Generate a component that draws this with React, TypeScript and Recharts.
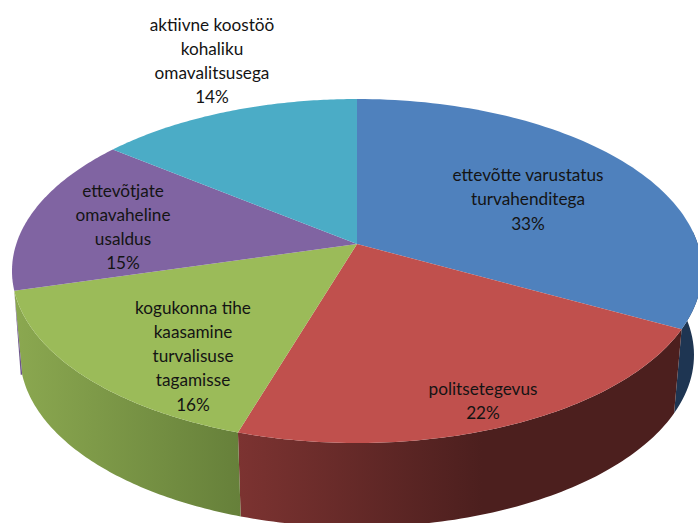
import { PieChart, Pie } from 'recharts';

const categories = [
  'ettevõtte varustatus turvahenditega',
  'politsetegevus',
  'kogukonna tihe kaasamine turvalisuse tagamisse',
  'ettevõtjate omavaheline usaldus',
  'aktiivne koostöö kohaliku omavalitsusega',
];
const shares = [32.8, 22.0, 15.9, 14.9, 14.4];
const labelLines = [
  ['ettevõtte varustatus', 'turvahenditega'],
  ['politsetegevus'],
  ['kogukonna tihe', 'kaasamine', 'turvalisuse', 'tagamisse'],
  ['ettevõtjate', 'omavaheline', 'usaldus'],
  ['aktiivne koostöö', 'kohaliku', 'omavalitsusega'],
];
const topColors = ['#4F81BD', '#C0504D', '#9BBB59', '#8064A2', '#4BACC6'];
// left colour, right colour and where the ramp ends, for the rim of each slice
const rimColors: [string, string, string][] = [
  ['#1E3552', '#1E3552', '100%'],
  ['#7C3331', '#4C1F1E', '55%'],
  ['#8BA850', '#66803A', '100%'],
  ['#6A5388', '#6A5388', '100%'],
  ['#3A8CA2', '#3A8CA2', '100%'],
];
// centre x and first line y of each label
const labelPos = [
  [528, 174.5],
  [483, 388],
  [193, 307],
  [123, 190],
  [212, 24],
];

const data = categories.map((name, i) => ({ name, value: shares[i] }));

const WIDTH = 698;
const HEIGHT = 523;
const CX = 357;
const CY = 271;
const RX = 345;
const SQUASH = 172 / 345; // ry / rx of the top face
const TILT = 0.157; // how far the pie's middle sits above the ellipse centre
const DEPTH = 84;
const BOTTOM_RX = 337;

const sinDeg = (a: number) => Math.sin((a * Math.PI) / 180);

// project a point of the unit circle (angle in degrees) on to the tilted pie
function project(angle: number) {
  const a = (angle * Math.PI) / 180;
  const ux = Math.cos(a);
  const uy = Math.sin(a);
  const d = 1 + TILT * uy;
  return {
    x: (ux * Math.sqrt(1 - TILT * TILT)) / d,
    y: (uy + TILT) / d,
  };
}

const topPoint = (angle: number, cx: number, cy: number, r: number) => {
  const p = project(angle);
  return [cx + p.x * r, cy - p.y * r * SQUASH];
};

const bottomPoint = (angle: number, cx: number, cy: number, r: number) => {
  const p = project(angle);
  return [cx + (p.x * r * BOTTOM_RX) / RX, cy + DEPTH - p.y * r * SQUASH];
};

const PieSlice = (props: any) => {
  const { cx, cy, outerRadius, startAngle, endAngle, fill, index } = props;
  const steps = 80;
  const angles: number[] = [];
  for (let i = 0; i <= steps; i++) {
    angles.push(startAngle + ((endAngle - startAngle) * i) / steps);
  }
  const top = angles.map((a) => topPoint(a, cx, cy, outerRadius));
  const bottom = angles.map((a) => bottomPoint(a, cx, cy, outerRadius));
  const apex = [cx, cy - TILT * outerRadius * SQUASH];
  const toPath = (pts: number[][]) => pts.map((p) => `${p[0]},${p[1]}`).join(' L');

  const frontIdx = angles.map((a, i) => (sinDeg(a) < 0.1 ? i : -1)).filter((i) => i >= 0);
  // a slice going up past the far left only shows a hairline of rim
  const isSliver = sinDeg(startAngle) < 0 && sinDeg(endAngle) > 0;
  const hasRim = frontIdx.length > 1 && !isSliver;
  const frontTop = frontIdx.map((i) => top[i]);
  const frontBottom = frontIdx.map((i) => bottom[i]).reverse();
  const xs = frontTop.concat(frontBottom).map((p) => p[0]);
  const gradId = `rim-${index}`;
  const [rimLeft, rimRight, rimEnd] = rimColors[index];

  return (
    <g>
      {hasRim && (
        <>
          <defs>
            <linearGradient
              id={gradId}
              gradientUnits="userSpaceOnUse"
              x1={Math.min(...xs)}
              x2={Math.max(...xs)}
              y1={0}
              y2={0}
            >
              <stop offset="0%" stopColor={rimLeft} />
              <stop offset={rimEnd} stopColor={rimRight} />
            </linearGradient>
          </defs>
          <path d={`M${toPath(frontTop.concat(frontBottom))} Z`} fill={`url(#${gradId})`} />
        </>
      )}
      <path d={`M${apex[0]},${apex[1]} L${toPath(top)} Z`} fill={fill} />
      {isSliver && (
        <path
          d={`M${top[0][0]},${top[0][1]} L${bottom[0][0]},${bottom[0][1]} L${bottom[0][0] - 1.5},${bottom[0][1]} Z`}
          fill={rimLeft}
        />
      )}
    </g>
  );
};

const SliceLabel = (props: any) => {
  const { index, value } = props;
  const lines = [...labelLines[index], `${Math.round(value)}%`];
  const [x, y] = labelPos[index];
  return (
    <g>
      {lines.map((line, i) => (
        <text
          key={i}
          x={x}
          y={y + i * 24.3}
          textAnchor="middle"
          dominantBaseline="central"
          fontFamily="Lato"
          fontSize={17.2}
          fill="#141414"
        >
          {line}
        </text>
      ))}
    </g>
  );
};

export default function App() {
  return (
    <div style={{ position: 'fixed', left: 0, top: 0, width: WIDTH, height: HEIGHT, overflow: 'hidden', background: '#fff' }}>
      <PieChart width={WIDTH} height={HEIGHT} margin={{ top: 0, right: 0, bottom: 0, left: 0 }}>
        <Pie
          data={data.map((d, i) => ({ ...d, fill: topColors[i] }))}
          dataKey="value"
          nameKey="name"
          cx={CX}
          cy={CY}
          innerRadius={0}
          outerRadius={RX}
          startAngle={90}
          endAngle={-270}
          stroke="none"
          shape={PieSlice}
          label={SliceLabel}
          labelLine={false}
          isAnimationActive={false}
        />
      </PieChart>
    </div>
  );
}
